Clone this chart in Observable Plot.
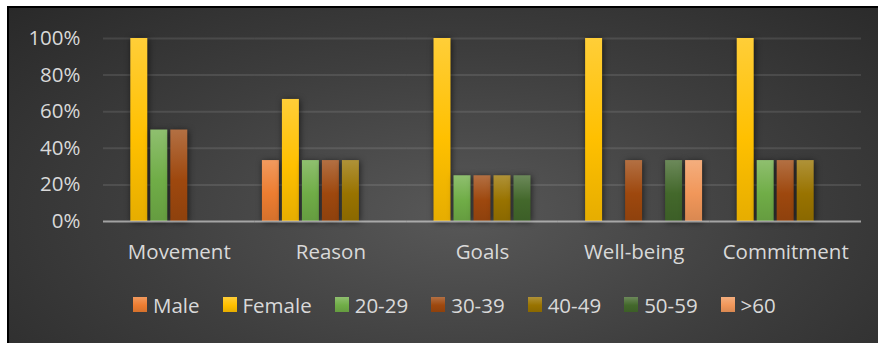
<!DOCTYPE html>
<html>
<head>
<meta charset="utf-8">
<script src="https://cdn.jsdelivr.net/npm/d3@7"></script>
<script src="https://cdn.jsdelivr.net/npm/@observablehq/plot@0.6"></script>
<style>
  html, body { margin: 0; padding: 0; background: #fff; overflow: hidden; }
  #frame {
    position: absolute; left: 7px; top: 6px;
    width: 869px; height: 335px; overflow: hidden;
    border-left: 2px solid #000; border-top: 2px solid #000;
    background: radial-gradient(ellipse 75% 95% at 52% 62%, #585858 0%, #3e3e3e 50%, #272727 100%);
  }
  #frame svg g[aria-label="bar"] rect { filter: drop-shadow(1px 1px 3px rgba(0,0,0,0.6)); }
  .lg-swatches {
    font-family: "Open Sans", sans-serif; font-size: 20.5px; color: #d9d9d9;
    margin-left: 124px; margin-top: 10px;
  }
  .lg-swatch { margin-right: 23px; }
  .lg-swatch > svg { margin-right: 6px; }
</style>
</head>
<body>
<div id="frame"></div>
<script>
// Survey dimensions and respondent groups
const categories = ["Movement", "Reason", "Goals", "Well-being", "Commitment"];
const series = ["Male", "Female", "20-29", "30-39", "40-49", "50-59", ">60"];

// Share of each group per dimension, in category order
const male     = [0,   0.333, 0,    0,     0];
const female   = [1,   0.667, 1,    1,     1];
const age20_29 = [0.5, 0.333, 0.25, 0,     0.333];
const age30_39 = [0.5, 0.333, 0.25, 0.333, 0.333];
const age40_49 = [0,   0.333, 0.25, 0,     0.333];
const age50_59 = [0,   0,     0.25, 0.333, 0];
const age60    = [0,   0,     0,    0.333, 0];

const yTicks = [0, 0.2, 0.4, 0.6, 0.8, 1];

const colors = ["#ED7D31", "#FFC000", "#70AD47", "#9E480E", "#997300", "#43682B", "#F1975A"];

const valuesBySeries = [male, female, age20_29, age30_39, age40_49, age50_59, age60];
const rows = [];
categories.forEach((c, i) => {
  series.forEach((s, j) => rows.push({category: c, group: s, value: valuesBySeries[j][i]}));
});

const fills = series.map((s, j) => `url(#grad${j})`);

const chart = Plot.plot({
  width: 869,
  height: 270,
  marginLeft: 94,
  marginRight: 17,
  marginTop: 30,
  marginBottom: 57,
  style: {fontFamily: "Open Sans, sans-serif", fontSize: "20.5px", color: "#d9d9d9", background: "transparent"},
  facet: {data: rows, x: "category"},
  fx: {domain: categories, padding: 0, round: false, axis: "bottom", tickSize: 0, tickPadding: 23, label: null},
  x: {domain: series, paddingInner: 0.15, paddingOuter: 0.365, round: false, axis: null},
  y: {domain: [0, 1], ticks: yTicks, tickFormat: d3.format(".0%"), tickSize: 0, tickPadding: 23, label: null},
  color: {domain: series, range: fills},
  marks: [
    Plot.ruleY(yTicks.slice(1), {stroke: "#ffffff", strokeOpacity: 0.1, strokeWidth: 2}),
    Plot.barY(rows, {x: "group", y: "value", fill: "group", filter: d => d.value > 0}),
    Plot.ruleY([0], {stroke: "#d9d9d9", strokeOpacity: 0.65, strokeWidth: 2})
  ]
});

// Vertical gradients for the bar fills: lighter top, deeper bottom
const defs = d3.select(chart).insert("defs", ":first-child");
colors.forEach((c, j) => {
  const g = defs.append("linearGradient").attr("id", `grad${j}`).attr("x1", 0).attr("y1", 0).attr("x2", 0).attr("y2", 1);
  g.append("stop").attr("offset", "0%").attr("stop-color", d3.interpolateRgb(c, "#ffffff")(0.22));
  g.append("stop").attr("offset", "55%").attr("stop-color", c);
  g.append("stop").attr("offset", "100%").attr("stop-color", d3.interpolateRgb(c, "#000000")(0.1));
});

const legend = Plot.legend({
  color: {domain: series, range: fills},
  className: "lg",
  swatchWidth: 14,
  swatchHeight: 15
});

const frame = document.getElementById("frame");
frame.appendChild(chart);
frame.appendChild(legend);
</script>
</body>
</html>
